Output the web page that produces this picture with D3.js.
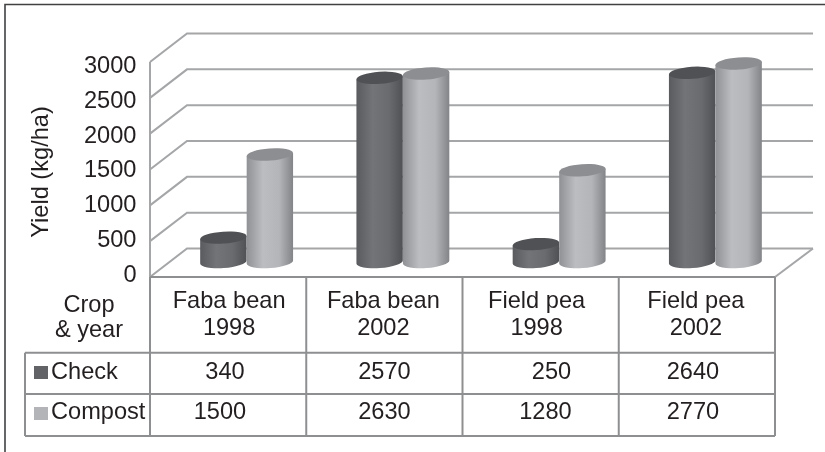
<!DOCTYPE html>
<html><head><meta charset="utf-8">
<script src="https://cdn.jsdelivr.net/npm/d3@7"></script>
<style>
html,body{margin:0;padding:0;background:#fff;overflow:hidden}
svg{display:block;filter:blur(0.35px)}
text{font-family:"Liberation Sans",Arial,sans-serif;font-size:23.6px;fill:#231f20}
</style></head><body>
<script>
const categories = ["Faba bean 1998","Faba bean 2002","Field pea 1998","Field pea 2002"];
const seriesNames = ["Check","Compost"];
const checkValues = [340,2570,250,2640];
const compostValues = [1500,2630,1280,2770];
const yTicks = [0,500,1000,1500,2000,2500,3000];

const W=825,H=452;
const svg=d3.select("body").append("svg").attr("width",W).attr("height",H);
const defs=svg.append("defs");
const seriesValues={Check:checkValues,Compost:compostValues};
const gridCol="#a5a6a8", tableCol="#8e8f91";

// frame
svg.append("path").attr("d",`M5,${H}V4.5H${W}`).attr("fill","none").attr("stroke","#404143").attr("stroke-width",1.6);

// scales
const yFront=d3.scaleLinear().domain([0,3000]).range([277,62]);
const yBack=d3.scaleLinear().domain([0,3000]).range([248.5,33.5]);
const yLabel=d3.scaleLinear().domain([0,3000]).range([281.7,73]);
const yHeight=d3.scaleLinear().domain([0,3000]).range([0,215]);
const xCat=d3.scaleBand().domain(categories).range([168.5,793.5]);
const xSeries=d3.scaleBand().domain(seriesNames).range([-46.5,46.5]);
const xTable=d3.scaleBand().domain(categories).range([150,775]);

// walls
const grid=svg.append("g").attr("fill","none").attr("stroke",gridCol).attr("stroke-width",2);
yTicks.forEach(t=>{
  grid.append("path").attr("d",`M150,${yFront(t)}L187,${yBack(t)}H813`);
});
grid.append("path").attr("d",`M150,${yFront(0)}V${yFront(3000)}`);
grid.append("path").attr("d",`M775,${yFront(0)}L813,${yBack(0)}`);

// tick labels + axis title
svg.append("g").selectAll("text").data(yTicks).join("text")
  .attr("x",136.5).attr("y",d=>yLabel(d)).attr("text-anchor","end").text(d=>d);
svg.append("text").attr("transform","translate(47.5,172) rotate(-90)").attr("text-anchor","middle").text("Yield (kg/ha)");

// cylinder gradients
const grads={Check:[["0","#5a5b5e"],["0.35","#737478"],["0.7","#6a6b6f"],["1","#505154"]],
             Compost:[["0","#909195"],["0.35","#bcbdc1"],["0.7","#b4b5b9"],["1","#838488"]]};
seriesNames.forEach(s=>{
  const g=defs.append("linearGradient").attr("id","g"+s).attr("x1",0).attr("x2",1).attr("y1",0).attr("y2",0);
  grads[s].forEach(([o,c])=>g.append("stop").attr("offset",o).attr("stop-color",c));
});
const topCol={Check:"#505154",Compost:"#8d8e91"};

// cylinders
const tilt=-4, rad=tilt*Math.PI/180, baseY=262;
seriesNames.forEach(s=>{
  const rx=xSeries.bandwidth()/2, ry=6;
  const dx=rx*Math.cos(rad), dy=rx*Math.sin(rad);
  seriesValues[s].forEach((v,i)=>{
    const cx=xCat(categories[i])+xCat.bandwidth()/2+xSeries(s)+rx;
    const h=yHeight(v), top=baseY-h;
    const g=svg.append("g");
    g.append("path")
      .attr("d",`M${cx-dx},${baseY-dy}A${rx},${ry} ${tilt} 0 0 ${cx+dx},${baseY+dy}L${cx+dx},${top+dy}L${cx-dx},${top-dy}Z`)
      .attr("fill",`url(#g${s})`);
    g.append("ellipse").attr("cx",0).attr("cy",0).attr("rx",rx).attr("ry",ry)
      .attr("transform",`translate(${cx},${top}) rotate(${tilt})`).attr("fill",topCol[s]);
  });
});

// table
const rowYs=[277,352.7,394,436];
const tbl=svg.append("g").attr("fill","none").attr("stroke",tableCol).attr("stroke-width",2);
tbl.append("path").attr("d",`M150,${rowYs[0]}H775`);
tbl.append("path").attr("d",`M25,${rowYs[1]}H775`);
tbl.append("path").attr("d",`M25,${rowYs[2]}H775`);
tbl.append("path").attr("d",`M25,${rowYs[3]}H775`);
tbl.append("path").attr("d",`M25,${rowYs[1]}V${rowYs[3]}`);
categories.forEach(c=>tbl.append("path").attr("d",`M${xTable(c)},${rowYs[0]}V${rowYs[3]}`));
tbl.append("path").attr("d",`M775,${rowYs[0]}V${rowYs[3]}`);

// table text
const nudge=d3.scaleOrdinal().domain(categories).range([1,-1,-4,-1]);
const g2=svg.append("g").attr("text-anchor","middle");
categories.forEach(c=>{
  const mid=xTable(c)+xTable.bandwidth()/2+nudge(c);
  const parts=c.split(" ");
  g2.append("text").attr("x",mid).attr("y",308).text(parts.slice(0,2).join(" "));
  g2.append("text").attr("x",mid).attr("y",335).text(parts[2]);
});
g2.append("text").attr("x",89).attr("y",311.5).text("Crop");
g2.append("text").attr("x",89).attr("y",337).text("& year");

const valueCentres=[[225,384.5,551.5,693],[220,384.5,545.5,693]];
const rowBase=[379,419], swatchTop=[366,407];
seriesNames.forEach((s,r)=>{
  svg.append("rect").attr("x",34).attr("y",swatchTop[r]).attr("width",14).attr("height",13)
    .attr("fill",r?"#b3b4b7":"#626367");
  svg.append("text").attr("x",51).attr("y",rowBase[r]).text(s);
  seriesValues[s].forEach((v,i)=>{
    g2.append("text").attr("x",valueCentres[r][i]).attr("y",rowBase[r]).text(v);
  });
});
</script>
</body></html>
